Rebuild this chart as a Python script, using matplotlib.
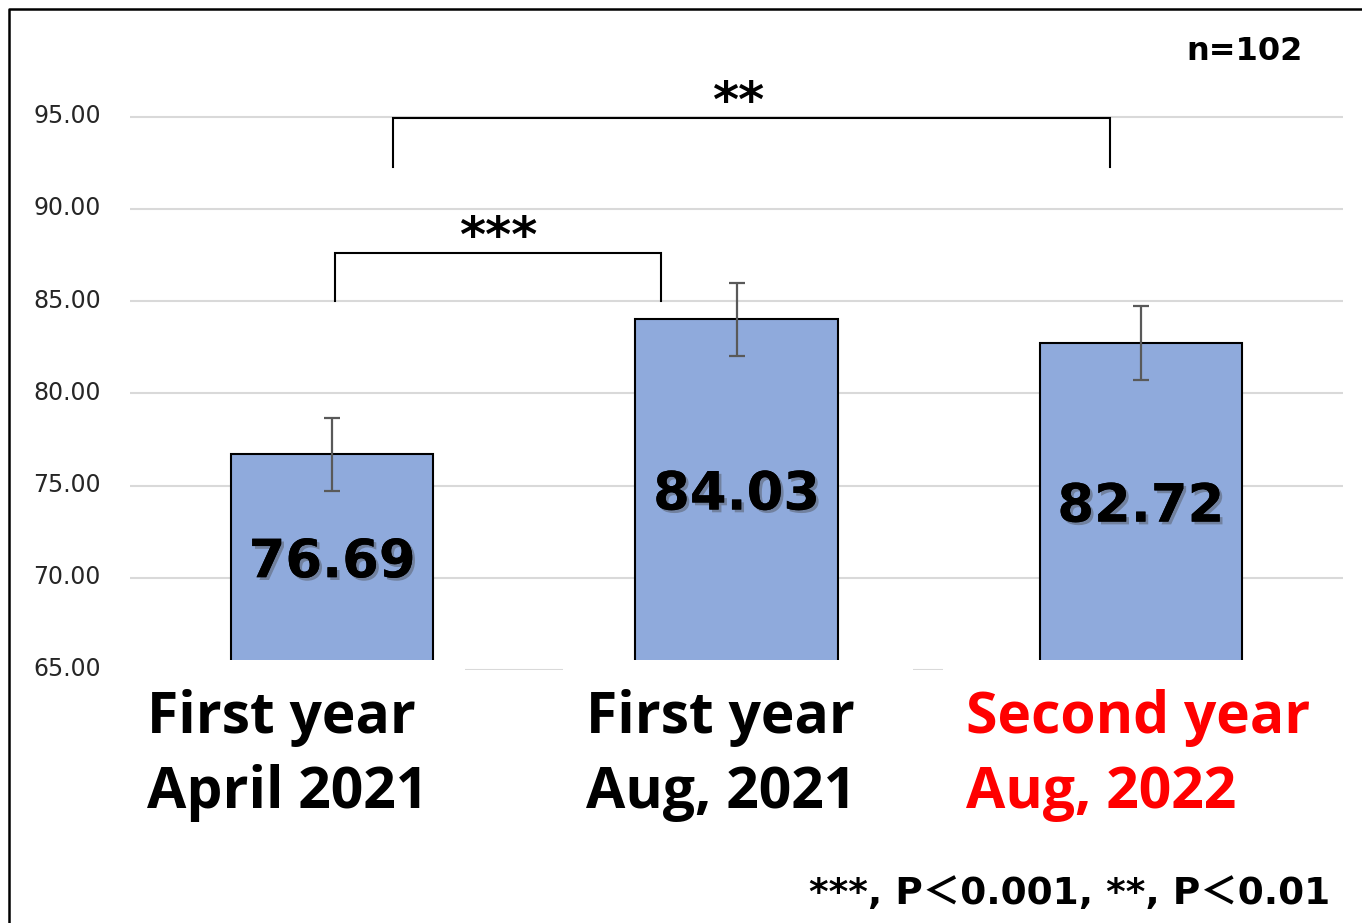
import matplotlib
matplotlib.use("Agg")
import matplotlib.pyplot as plt
import matplotlib.patheffects as pe
import matplotlib.transforms as mtransforms
from matplotlib.patches import Rectangle
from matplotlib.lines import Line2D

# Scores at each survey point (n=102)
cat_line1 = ["First year", "First year", "Second year"]
cat_line2 = ["April 2021", "Aug, 2021", "Aug, 2022"]
means = [76.69, 84.03, 82.72]
errors = [2.0, 1.98, 2.0]
yticks = [65, 70, 75, 80, 85, 90, 95]

W, H = 1362, 923
fig = plt.figure(figsize=(W / 100, H / 100), dpi=100)
fig.patch.set_facecolor("white")

def fx(px):
    return px / W

def fy(py):
    return 1 - py / H

ax = fig.add_axes([fx(130), fy(670), fx(1343) - fx(130), (670 - 43) / H])
x = list(range(len(means)))
ax.bar(x, [m - 65 for m in means], bottom=65, width=0.5, color="#8FAADC",
       edgecolor="black", linewidth=1.5, zorder=3)
ax.errorbar(x, means, yerr=errors, fmt="none", ecolor="#595959",
            elinewidth=1.6, capsize=6, capthick=1.6, zorder=4)
ax.set_xlim(-0.5, 2.5)
ax.set_ylim(65, 99)
ax.set_yticks(yticks)
ax.set_yticklabels([f"{v:.2f}" for v in yticks], fontsize=17,
                   family="DejaVu Sans", color="#262626")
ax.tick_params(axis="y", length=0, pad=21)
lift = mtransforms.ScaledTranslation(0, 3 / 100, fig.dpi_scale_trans)
for lab in ax.get_yticklabels():
    lab.set_transform(lab.get_transform() + lift)
ax.set_xticks([])
ax.grid(axis="y", color="#D9D9D9", linewidth=1.5, zorder=0)
ax.set_axisbelow(True)
for s in ax.spines.values():
    s.set_visible(False)

# value labels in the middle of each bar
shadow = [pe.withSimplePatchShadow(offset=(2, -2), shadow_rgbFace="#444444", alpha=0.4),
          pe.Normal()]
for xi, m in zip(x, means):
    ax.text(xi, (65 + m) / 2, f"{m:.2f}", ha="center", va="center",
            fontsize=38, fontweight="bold", family="DejaVu Sans",
            zorder=5, path_effects=shadow)

# significance brackets
def bracket(x0, x1, y_low, y_top, label, label_x):
    ax.plot([x0, x0, x1, x1], [y_low, y_top, y_top, y_low], color="black",
            linewidth=1.5, zorder=5, clip_on=False, solid_joinstyle="miter")
    ax.text(label_x, y_top + 0.05, label, ha="center", va="baseline",
            fontsize=36, fontweight="bold", family="DejaVu Sans", zorder=5)

bracket(0.007, 0.813, 85.0, 87.6, "***", 0.41)
bracket(0.150, 1.923, 92.3, 94.95, "**", 1.005)

# white label panels under the plot area
for x0, x1 in [(130, 465), (563, 913), (943, 1362)]:
    fig.patches.append(Rectangle((fx(x0), fy(840)), fx(x1) - fx(x0), fy(660) - fy(840),
                                 transform=fig.transFigure, facecolor="white",
                                 edgecolor="none", zorder=10))

label_colors = ["black", "black", "#FF0000"]
label_left = [147, 586, 966]
for l1, l2, c, lx in zip(cat_line1, cat_line2, label_colors, label_left):
    fig.text(fx(lx), fy(733), l1, ha="left", va="baseline", fontsize=41,
             fontweight="bold", family="Open Sans", color=c, zorder=11)
    fig.text(fx(lx), fy(808), l2, ha="left", va="baseline", fontsize=41,
             fontweight="bold", family="Open Sans", color=c, zorder=11)

fig.text(fx(1303), fy(60), "n=102", ha="right", va="baseline", fontsize=23,
         fontweight="bold", family="DejaVu Sans")
fig.text(fx(1330), fy(904), "***, P＜0.001, **, P＜0.01", ha="right", va="baseline",
         fontsize=27, fontweight="bold", family=["DejaVu Sans", "Noto Sans CJK JP"])

# outer frame
fig.lines.append(Line2D([fx(9), fx(9), fx(1362)], [0, fy(9), fy(9)],
                        transform=fig.transFigure, color="black", linewidth=1.8))

fig.savefig("out.png", dpi=100)
